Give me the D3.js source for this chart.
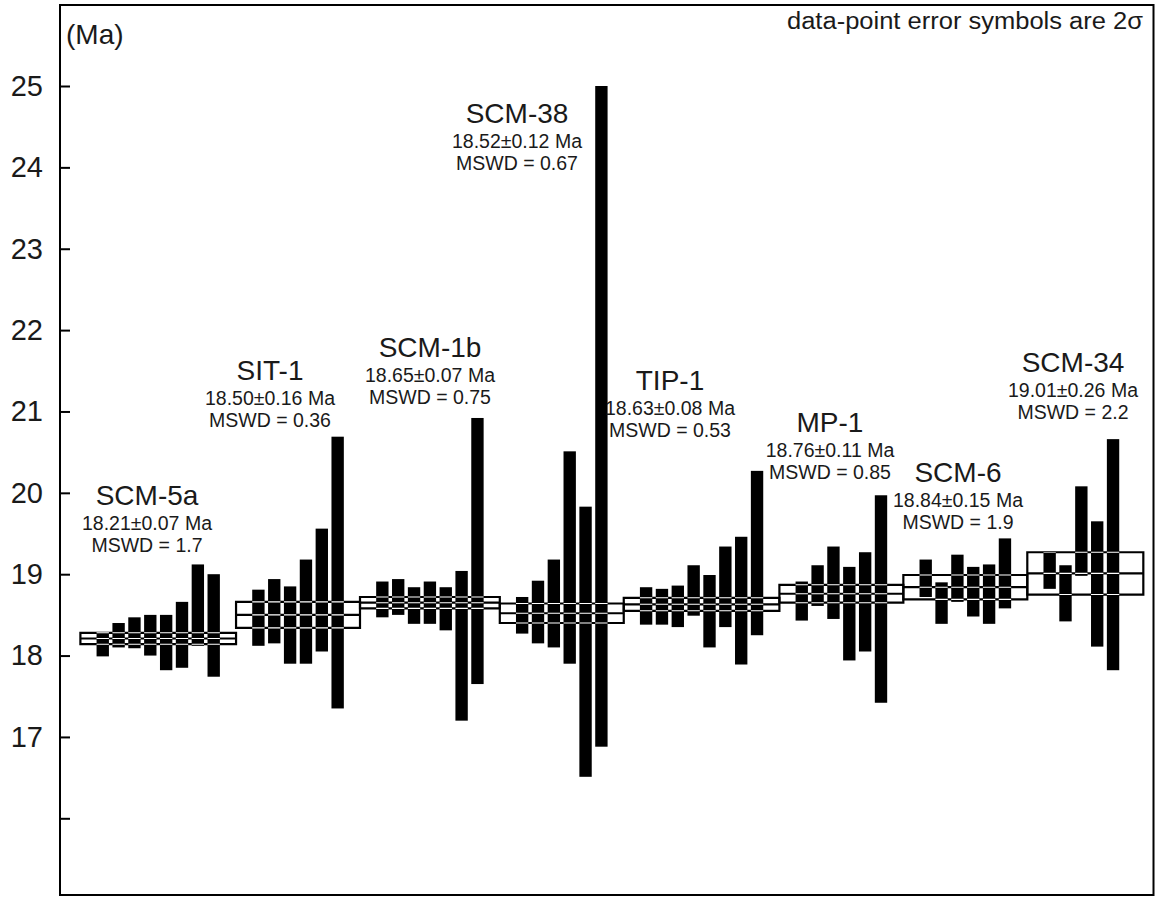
<!DOCTYPE html>
<html>
<head>
<meta charset="utf-8">
<script src="https://cdn.jsdelivr.net/npm/d3@7"></script>
<style>
  body { margin: 0; background: #fff; }
  svg text { font-family: "Liberation Sans", Arial, sans-serif; fill: #1a1a1a; }
</style>
</head>
<body>
<div id="chart"></div>
<script>
// samples, left to right
var sampleNames = ["SCM-5a", "SIT-1", "SCM-1b", "SCM-38", "TIP-1", "MP-1", "SCM-6", "SCM-34"];
var meanAges = [18.21, 18.50, 18.65, 18.52, 18.63, 18.76, 18.84, 19.01];
var meanErrors = [0.07, 0.16, 0.07, 0.12, 0.08, 0.11, 0.15, 0.26];
var mswdValues = ["1.7", "0.36", "0.75", "0.67", "0.53", "0.85", "1.9", "2.2"];

// single grain ages, 2 sigma range (upper / lower end) in Ma
var grainTops = [
  [18.29, 18.40, 18.47, 18.50, 18.50, 18.66, 19.12, 19.00],
  [18.81, 18.94, 18.85, 19.18, 19.56, 20.69],
  [18.91, 18.94, 18.84, 18.91, 18.84, 19.04, 20.92],
  [18.72, 18.92, 19.18, 20.51, 19.83, 25.00],
  [18.84, 18.82, 18.86, 19.11, 18.99, 19.34, 19.46, 20.27],
  [18.91, 19.11, 19.34, 19.09, 19.27, 19.97],
  [19.18, 18.90, 19.24, 19.09, 19.12, 19.44],
  [19.27, 19.11, 20.08, 19.65, 20.66]
];
var grainBottoms = [
  [17.99, 18.10, 18.09, 18.00, 17.82, 17.85, 18.12, 17.74],
  [18.12, 18.15, 17.90, 17.90, 18.05, 17.35],
  [18.47, 18.50, 18.39, 18.39, 18.31, 17.20, 17.65],
  [18.27, 18.15, 18.10, 17.90, 16.51, 16.88],
  [18.38, 18.38, 18.35, 18.49, 18.10, 18.35, 17.89, 18.25],
  [18.43, 18.61, 18.45, 17.94, 18.05, 17.42],
  [18.72, 18.39, 18.66, 18.48, 18.39, 18.58],
  [18.82, 18.42, 18.98, 18.11, 17.82]
];

var yTickValues = [16, 17, 18, 19, 20, 21, 22, 23, 24, 25];
var yTickLabels = ["", "17", "18", "19", "20", "21", "22", "23", "24", "25"];

// label placement (px): centre x and baseline of the sample name
var labelX = [147, 270, 430, 517, 670, 830, 958, 1073];
var labelY = [505, 380, 357, 123, 390, 432, 482, 372];

var width = 1156, height = 899;
var frame = { left: 60, top: 5, right: 1153.5, bottom: 895 };
var gap = 1.82;      // empty slots around each sample (both sides together)
var barFrac = 0.78;  // bar width as part of one slot

// slot layout for the groups
var groups = [];
var pos = 0;
sampleNames.forEach(function (name, i) {
  var n = grainTops[i].length;
  groups.push({ i: i, start: pos, end: pos + n + gap, n: n });
  pos += n + gap;
});
groups[groups.length - 1].end += 0.5; // last box runs a bit further right

var x = d3.scaleLinear().domain([0, pos]).range([80.4, 1135.4]);
var y = d3.scaleLinear().domain([16, 25]).range([818.3, 86]);
var slot = x(1) - x(0);

var svg = d3.select("#chart").append("svg")
  .attr("width", width)
  .attr("height", height);

var bars = [];
groups.forEach(function (g) {
  grainTops[g.i].forEach(function (t, j) {
    bars.push({ xs: g.start + gap / 2 + j + 0.5, top: t, bottom: grainBottoms[g.i][j] });
  });
});

function boxPath(g) {
  var m = meanAges[g.i], e = meanErrors[g.i];
  var x0 = x(g.start), x1 = x(g.end);
  return "M" + x0 + "," + y(m + e) + "H" + x1 + "V" + y(m - e) + "H" + x0 + "Z" +
    "M" + x0 + "," + y(m) + "H" + x1;
}

function barRects(sel) {
  sel.attr("x", function (d) { return x(d.xs) - slot * barFrac / 2; })
    .attr("width", slot * barFrac)
    .attr("y", function (d) { return y(d.top); })
    .attr("height", function (d) { return y(d.bottom) - y(d.top); });
}

// weighted mean boxes
svg.append("g").selectAll("path")
  .data(groups)
  .enter().append("path")
  .attr("d", boxPath)
  .attr("fill", "none")
  .attr("stroke", "#000")
  .attr("stroke-width", 2.2);

// grains
svg.append("g").selectAll("rect")
  .data(bars)
  .enter().append("rect")
  .call(barRects)
  .attr("fill", "#000");

// box lines show as white where they cross a grain bar
svg.append("clipPath").attr("id", "barclip")
  .selectAll("rect")
  .data(bars)
  .enter().append("rect")
  .call(barRects);

svg.append("g")
  .attr("clip-path", "url(#barclip)")
  .selectAll("path")
  .data(groups)
  .enter().append("path")
  .attr("d", boxPath)
  .attr("fill", "none")
  .attr("stroke", "#fff")
  .attr("stroke-width", 1.1);

// axis
var yAxis = d3.axisLeft(y)
  .tickValues(yTickValues)
  .tickFormat(function (d, i) { return yTickLabels[i]; })
  .tickSizeInner(-10)
  .tickSizeOuter(0)
  .tickPadding(17);

var ax = svg.append("g")
  .attr("transform", "translate(" + frame.left + ",0)")
  .call(yAxis);
ax.select(".domain").remove();
ax.selectAll("line").attr("stroke", "#000").attr("stroke-width", 2);
ax.selectAll("text").style("font-size", "29px").attr("fill", "#1a1a1a");

svg.append("rect")
  .attr("x", frame.left)
  .attr("y", frame.top)
  .attr("width", frame.right - frame.left)
  .attr("height", frame.bottom - frame.top)
  .attr("fill", "none")
  .attr("stroke", "#000")
  .attr("stroke-width", 2);

svg.append("text")
  .attr("x", 66)
  .attr("y", 44)
  .style("font-size", "28px")
  .text("(Ma)");

svg.append("text")
  .attr("x", 1143)
  .attr("y", 29)
  .attr("text-anchor", "end")
  .attr("textLength", 356)
  .attr("lengthAdjust", "spacingAndGlyphs")
  .style("font-size", "23px")
  .text("data-point error symbols are 2\u03c3");

// sample labels
var lab = svg.append("g").selectAll("g")
  .data(groups)
  .enter().append("g")
  .attr("transform", function (g) { return "translate(" + labelX[g.i] + "," + labelY[g.i] + ")"; })
  .attr("text-anchor", "middle");

lab.append("text")
  .style("font-size", "28px")
  .text(function (g) { return sampleNames[g.i]; });

lab.append("text")
  .attr("y", 25)
  .style("font-size", "19.5px")
  .text(function (g) { return meanAges[g.i].toFixed(2) + "\u00b1" + meanErrors[g.i].toFixed(2) + " Ma"; });

lab.append("text")
  .attr("y", 47)
  .style("font-size", "19.5px")
  .text(function (g) { return "MSWD = " + mswdValues[g.i]; });
</script>
</body>
</html>
